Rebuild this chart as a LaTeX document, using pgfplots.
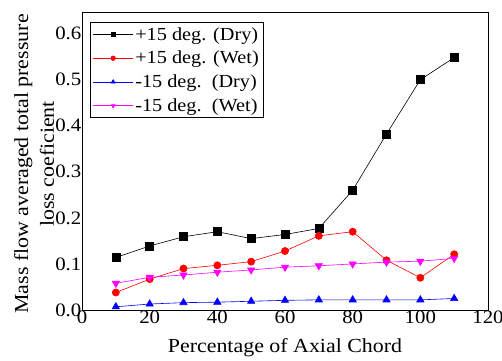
\documentclass[border=0pt]{standalone}
\usepackage{fontspec}
\setmainfont[FakeStretch=1.1]{Liberation Serif}
\usepackage{pgfplots}
\pgfplotsset{compat=1.18}
\definecolor{mymag}{RGB}{255,0,255}
\begin{document}
\begin{tikzpicture}
\begin{axis}[
  scale only axis=true,
  width=406bp, height=298bp,
  xmin=0, xmax=120, ymin=0, ymax=0.647,
  xtick={0,20,...,120},
  ytick={0,0.1,...,0.6},
  major tick length=0pt,
  /pgf/number format/assume math mode=true,
  yticklabel style={/pgf/number format/fixed,/pgf/number format/fixed zerofill,/pgf/number format/precision=1, inner sep=0.5bp},
  xticklabel style={inner sep=1bp},
  ticklabel style={font=\fontsize{19}{19}\selectfont},
  xlabel={Percentage of Axial Chord},
  ylabel={Mass flow averaged total pressure\\loss coeficient},
  ylabel style={at={(axis description cs:-0.118,0.49)}, anchor=center, rotate=0, align=center, font=\fontsize{20}{26}\selectfont},
  xlabel style={at={(axis description cs:0.5,0)}, anchor=north, yshift=-25bp, font=\fontsize{20}{20}\selectfont},
  legend style={at={(axis description cs:0.02,0.965)}, anchor=north west, font=\fontsize{18.5}{18.5}\selectfont, draw=black, line width=0.8pt, row sep=5.5pt, inner sep=2.5pt},
  legend cell align=left,
  legend image code/.code={\draw[mark repeat=2, mark phase=2, mark size=2.3pt] plot coordinates {(0cm,0cm)(0.7cm,0cm)(1.4cm,0cm)};},
  every axis plot/.append style={line width=0.6pt},
  axis line style={line width=0.8pt},
]
\addplot[black, mark=square*, mark size=4pt] coordinates {(10,0.114)(20,0.139)(30,0.159)(40,0.170)(50,0.155)(60,0.164)(70,0.177)(80,0.260)(90,0.382)(100,0.500)(110,0.548)};
\addlegendentry{+15 deg. (Dry)}
\addplot[red, mark=*, mark size=3.6pt] coordinates {(10,0.038)(20,0.067)(30,0.090)(40,0.097)(50,0.105)(60,0.128)(70,0.161)(80,0.170)(90,0.108)(100,0.070)(110,0.121)};
\addlegendentry{+15 deg. (Wet)}
\addplot[blue, mark=triangle*, mark size=4.2pt] coordinates {(10,0.007)(20,0.013)(30,0.016)(40,0.017)(50,0.019)(60,0.021)(70,0.022)(80,0.022)(90,0.022)(100,0.022)(110,0.025)};
\addlegendentry{-15 deg.\ \ (Dry)}
\addplot[mymag, mark=triangle*, mark size=4.2pt, mark options={rotate=180}] coordinates {(10,0.058)(20,0.071)(30,0.076)(40,0.082)(50,0.087)(60,0.093)(70,0.096)(80,0.100)(90,0.104)(100,0.106)(110,0.112)};
\addlegendentry{-15 deg.\ \ (Wet)}
\end{axis}
\pgfresetboundingbox
\path ([shift={(-82bp,-51bp)}]current axis.south west) rectangle ([shift={(14bp,12bp)}]current axis.north east);
\end{tikzpicture}
\end{document}
